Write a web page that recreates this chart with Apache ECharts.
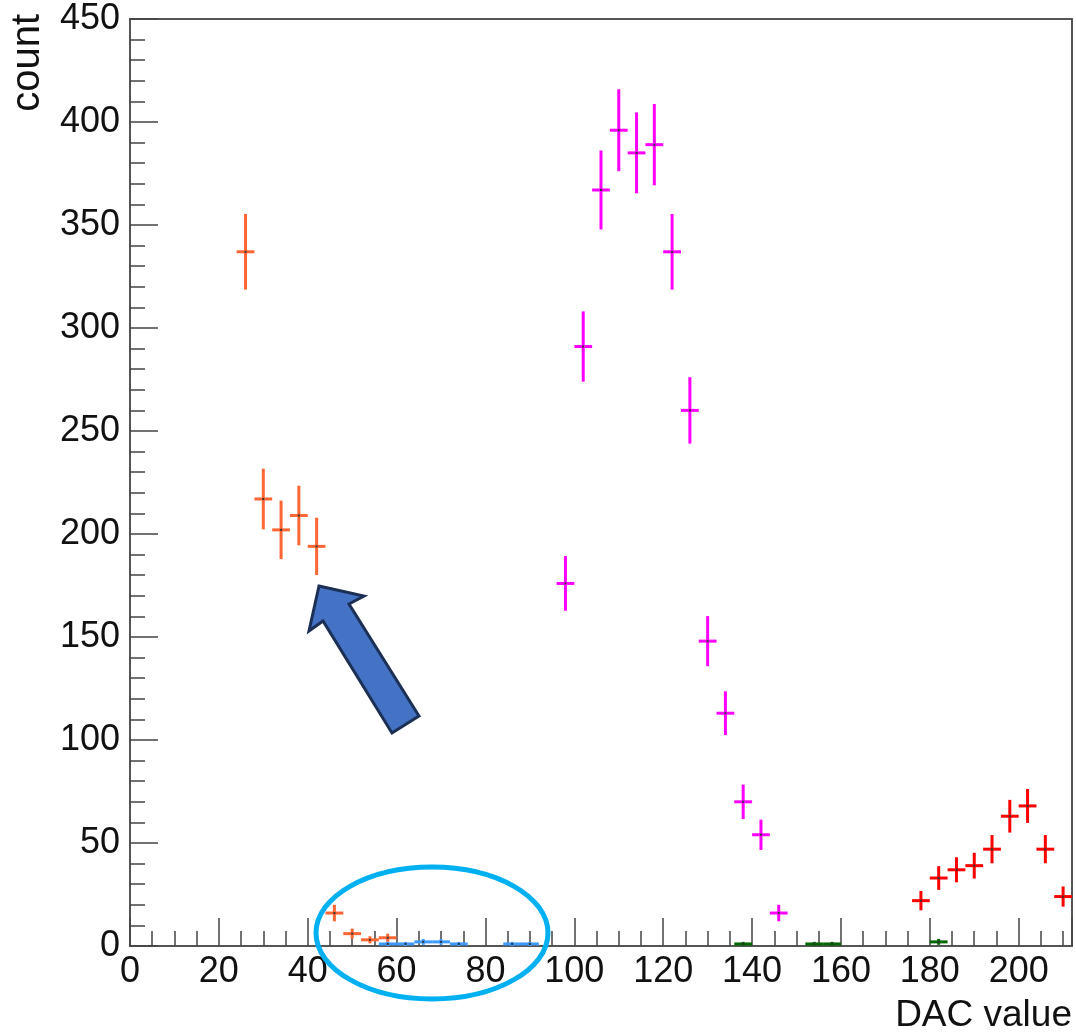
<!DOCTYPE html>
<html lang="en">
<head>
    <meta charset="UTF-8">
    <title>DAC value</title>
    <script src="https://cdn.jsdelivr.net/npm/echarts@6/dist/echarts.min.js"></script>
    <style>
        html, body { margin: 0; padding: 0; background: #fff; }
        #main { width: 1076px; height: 1032px; }
    </style>
</head>
<body>
<div id="main"></div>
<script type="text/javascript">
    // bin centres (bin width 4) and counts
    var orangeX = [26, 30, 34, 38, 42, 46, 50, 54, 58];
    var orangeY = [337, 217, 202, 209, 194, 16, 6, 3, 4];

    var blueX = [58, 62, 66, 70, 74, 86, 90];
    var blueY = [1, 1, 2, 2, 1, 1, 1];

    var magentaX = [98, 102, 106, 110, 114, 118, 122, 126, 130, 134, 138, 142, 146];
    var magentaY = [176, 291, 367, 396, 385, 389, 337, 260, 148, 113, 70, 54, 16];

    var greenX = [138, 154, 158, 182];
    var greenY = [1, 1, 1, 2];

    var redX = [178, 182, 186, 190, 194, 198, 202, 206, 210];
    var redY = [22, 33, 37, 39, 47, 63, 68, 47, 24];

    var BIN_W = 4;
    var FONT = '"Liberation Sans", Arial, Helvetica, sans-serif';

    var myChart = echarts.init(document.getElementById('main'));

    // histogram points: [x, count, error] with sqrt(N) errors
    function toData(xs, ys) {
        return xs.map(function (x, i) {
            return [x, ys[i], Math.sqrt(ys[i])];
        });
    }

    function errRender(color) {
        return function (params, api) {
            var x = api.value(0), y = api.value(1), e = api.value(2);
            var c = api.coord([x, y]);
            var top = api.coord([x, y + e]);
            var bot = api.coord([x, y - e]);
            var l = api.coord([x - BIN_W / 2, y]);
            var r = api.coord([x + BIN_W / 2, y]);
            var st = {stroke: color, lineWidth: 3};
            return {
                type: 'group',
                children: [
                    {type: 'line', shape: {x1: c[0], y1: top[1], x2: c[0], y2: bot[1]}, style: st},
                    {type: 'line', shape: {x1: l[0], y1: c[1], x2: r[0], y2: c[1]}, style: st},
                    {type: 'rect', shape: {x: c[0] - 1, y: c[1] - 1, width: 2, height: 2}, style: {fill: '#333'}}
                ]
            };
        };
    }

    function histSeries(name, xs, ys, color) {
        return {
            name: name,
            type: 'custom',
            clip: true,
            renderItem: errRender(color),
            encode: {x: 0, y: 1},
            data: toData(xs, ys)
        };
    }

    var axisCol = '#555';

    var option = {
        backgroundColor: '#fff',
        animation: false,
        grid: {left: 130, right: 4, top: 19, bottom: 86, show: true, borderColor: axisCol, borderWidth: 2},
        xAxis: {
            type: 'value',
            min: 0,
            max: 212,
            interval: 20,
            axisLine: {show: true, lineStyle: {color: axisCol, width: 2}},
            axisTick: {show: true, inside: true, length: 28, lineStyle: {color: '#444', width: 1.5}},
            minorTick: {show: true, splitNumber: 4, length: 15, lineStyle: {color: '#444', width: 1.5}},
            splitLine: {show: false},
            axisLabel: {fontSize: 36, color: '#111', fontFamily: FONT, margin: 8, showMaxLabel: false}
        },
        yAxis: {
            type: 'value',
            min: 0,
            max: 450,
            interval: 50,
            axisLine: {show: true, lineStyle: {color: axisCol, width: 2}},
            axisTick: {show: true, inside: true, length: 28, lineStyle: {color: '#444', width: 1.5}},
            minorTick: {show: true, splitNumber: 5, length: 15, lineStyle: {color: '#444', width: 1.5}},
            splitLine: {show: false},
            axisLabel: {fontSize: 36, color: '#111', fontFamily: FONT, margin: 10}
        },
        graphic: [
            {
                type: 'text', z: 100,
                style: {x: 1072, y: 1016, text: 'DAC value', align: 'right', verticalAlign: 'middle',
                    fontSize: 37, fontFamily: FONT, fill: '#111'}
            },
            {
                type: 'text', z: 100, x: 28, y: 14, rotation: Math.PI / 2,
                style: {x: 0, y: 0, text: 'count', align: 'right', verticalAlign: 'middle',
                    fontSize: 40, fontFamily: FONT, fill: '#111'}
            },
            // annotation: ellipse round the low-count region
            {
                type: 'ellipse', z: 100,
                shape: {cx: 432, cy: 933, rx: 116, ry: 66},
                style: {fill: 'none', stroke: '#00b0f0', lineWidth: 5}
            },
            // annotation: arrow
            {
                type: 'polygon', z: 100,
                shape: {points: [[319, 586], [364, 596], [349, 604], [419, 716], [392, 733], [323, 621], [309, 631]]},
                style: {fill: '#4472c4', stroke: '#1c2f55', lineWidth: 3}
            }
        ],
        series: [
            histSeries('orange', orangeX, orangeY, '#ff6633'),
            histSeries('blue', blueX, blueY, '#3d9bff'),
            histSeries('magenta', magentaX, magentaY, '#ff00ff'),
            histSeries('green', greenX, greenY, '#006600'),
            histSeries('red', redX, redY, '#ff0000')
        ]
    };

    myChart.setOption(option);
</script>
</body>
</html>
